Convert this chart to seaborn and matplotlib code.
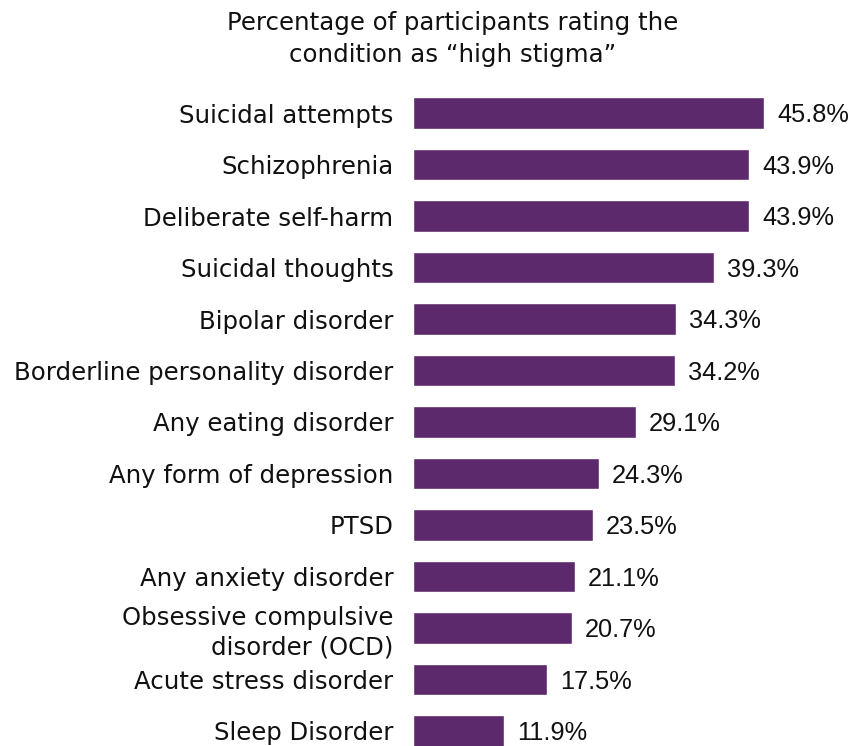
import matplotlib
matplotlib.use("Agg")
import matplotlib.pyplot as plt
import seaborn as sns
import pandas as pd

categories = ["Suicidal attempts", "Schizophrenia", "Deliberate self-harm",
              "Suicidal thoughts", "Bipolar disorder",
              "Borderline personality disorder", "Any eating disorder",
              "Any form of depression", "PTSD", "Any anxiety disorder",
              "Obsessive compulsive\ndisorder (OCD)", "Acute stress disorder",
              "Sleep Disorder"]
values = [45.8, 43.9, 43.9, 39.3, 34.3, 34.2, 29.1, 24.3, 23.5, 21.1, 20.7, 17.5, 11.9]
value_labels = ["45.8%", "43.9%", "43.9%", "39.3%", "34.3%", "34.2%", "29.1%",
                "24.3%", "23.5%", "21.1%", "20.7%", "17.5%", "11.9%"]
title = "Percentage of participants rating the\ncondition as \u201chigh stigma\u201d"

sns.set_theme(style="white")
plt.rcParams['font.family'] = ['DejaVu Sans']

FS = 17.6
W, H = 864, 746
fig = plt.figure(figsize=(W / 100, H / 100), dpi=100)
ax_left, ax_top, ax_bottom = 413, 80, 746
ax = fig.add_axes([ax_left / W, 1 - ax_bottom / H, 1 - ax_left / W, (ax_bottom - ax_top) / H])

df = pd.DataFrame({"cat": categories, "val": values})
sns.barplot(data=df, x="val", y="cat", orient="h", color="#5C2A6C",
            saturation=1, width=0.62, ax=ax)

px_per_unit = (764 - 413) / 45.8
ax.set_xlim(0, (W - ax_left) / px_per_unit)
ax.set_ylim((746 - 113) / 51.5, (80 - 113) / 51.5)

for i, (v, lab) in enumerate(zip(values, value_labels)):
    ax.text(v + 13 / px_per_unit, i + 0.04, lab, va="center", ha="left",
            fontsize=18.3, color="#111111", family=["Liberation Sans"])

ax.set_xlabel("")
ax.set_ylabel("")
ax.set_xticks([])
ax.tick_params(axis="y", length=0, pad=14, labelsize=FS, labelcolor="#111111")
for lbl in ax.get_yticklabels():
    lbl.set_horizontalalignment("right")
    lbl.set_multialignment("right")
    lbl.set_linespacing(1.25)
for s in ax.spines.values():
    s.set_visible(False)

fig.text(453 / W, 1 - 39 / H, title, ha="center", va="center",
         fontsize=FS, color="#111111", linespacing=1.4)

fig.savefig("out.png", dpi=100, facecolor="white")
